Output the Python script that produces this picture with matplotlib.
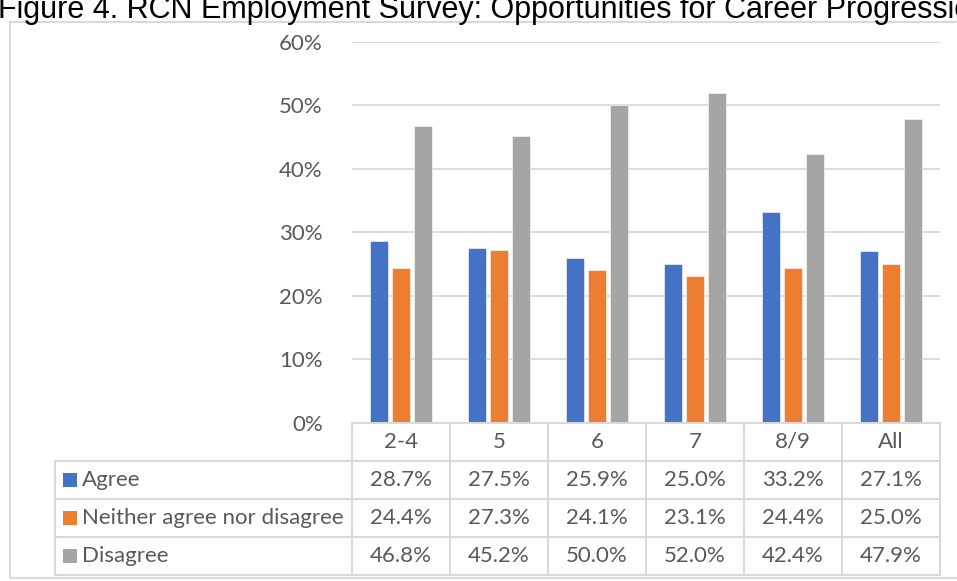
import matplotlib.pyplot as plt
from matplotlib.patches import Rectangle

# Survey results by band, share of responses
categories = ["2-4", "5", "6", "7", "8/9", "All"]
series_names = ["Agree", "Neither agree nor disagree", "Disagree"]
agree = [28.7, 27.5, 25.9, 25.0, 33.2, 27.1]
neither = [24.4, 27.3, 24.1, 23.1, 24.4, 25.0]
disagree = [46.8, 45.2, 50.0, 52.0, 42.4, 47.9]
colors = ["#4472c4", "#ed7d31", "#a5a5a5"]
yticks = [0, 10, 20, 30, 40, 50, 60]

TEXT = "#595959"
GRID = "#d9d9d9"
FS = 16
plt.rcParams["font.family"] = ["Lato", "DejaVu Sans"]

W, H = 957, 581
fig = plt.figure(figsize=(W / 100, H / 100), dpi=100)


def px_rect(x0, y0, x1, y1):
    # pixel box (top-left origin) -> figure fraction [left, bottom, width, height]
    return [x0 / W, 1 - y1 / H, (x1 - x0) / W, (y1 - y0) / H]


# chart frame, runs off the right edge
fig.patches.append(Rectangle((10 / W, 1 - 578 / H), 1.2, (578 - 22) / H,
                             transform=fig.transFigure, fill=False,
                             edgecolor=GRID, linewidth=1.5, zorder=0))

fig.text(-0.002, 1 - 18 / H, "Figure 4. RCN Employment Survey: Opportunities for Career Progression",
         fontsize=22, family=["Liberation Sans"], color="black", va="baseline")

# --- bar chart ---
ax = fig.add_axes(px_rect(352, 41.7, 940, 423))
series = [agree, neither, disagree]
width = 0.175
offset = 0.225
x = list(range(len(categories)))
for i, (vals, col) in enumerate(zip(series, colors)):
    ax.bar([xi + (i - 1) * offset for xi in x], vals, width=width, color=col,
           edgecolor="white", linewidth=0.4, zorder=3)

ax.set_xlim(-0.5, len(categories) - 0.5)
ax.set_ylim(0, 60)
ax.set_yticks(yticks)
ax.set_yticklabels([f"{t}%" for t in yticks], fontsize=FS, color=TEXT)
ax.tick_params(axis="y", length=0, pad=21)
ax.set_xticks([])
ax.grid(axis="y", color=GRID, linewidth=1.3, zorder=0)
for s in ax.spines.values():
    s.set_visible(False)

# --- data table under the bars ---
legend_w = (352 - 55) / 98.0
tab = fig.add_axes(px_rect(55, 423, 940, 575))
tab.set_xlim(-0.5 - legend_w, len(categories) - 0.5)
tab.set_ylim(4, 0)
tab.axis("off")
lw = 1.5
x_left = -0.5 - legend_w
x_right = len(categories) - 0.5

# horizontal rules
tab.plot([-0.5, x_right], [0, 0], color=GRID, lw=lw, clip_on=False)
for r in range(1, 5):
    tab.plot([x_left, x_right], [r, r], color=GRID, lw=lw, clip_on=False)
# vertical rules
tab.plot([x_left, x_left], [1, 4], color=GRID, lw=lw, clip_on=False)
for c in range(len(categories) + 1):
    tab.plot([c - 0.5, c - 0.5], [0, 4], color=GRID, lw=lw, clip_on=False)

for c, cat in enumerate(categories):
    tab.text(c, 0.5, cat, ha="center", va="center", fontsize=FS, color=TEXT)
for r, (name, vals, col) in enumerate(zip(series_names, series, colors), start=1):
    tab.add_patch(Rectangle((x_left + 8 / 98, r + 0.5 - 0.18), 14 / 98, 0.36,
                            facecolor=col, edgecolor="none"))
    tab.text(x_left + 27 / 98, r + 0.5, name, ha="left", va="center",
             fontsize=FS, color=TEXT)
    for c, v in enumerate(vals):
        tab.text(c, r + 0.5, f"{v:.1f}%", ha="center", va="center",
                 fontsize=FS, color=TEXT)

fig.savefig("out.png", dpi=100)
